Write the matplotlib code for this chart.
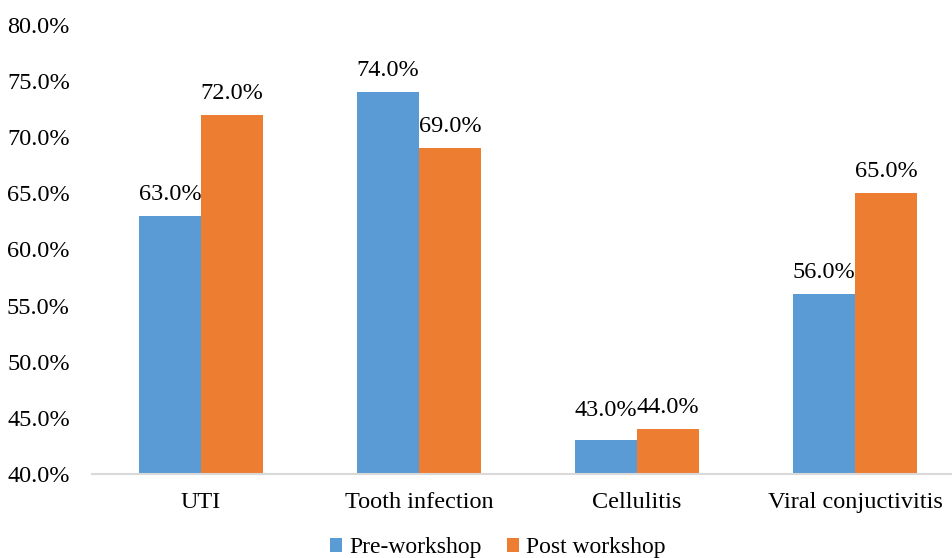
import matplotlib.pyplot as plt
import matplotlib
import numpy as np

matplotlib.rc('font', family=['Liberation Serif', 'DejaVu Serif'])

categories = ['UTI', 'Tooth infection', 'Cellulitis', 'Viral conjuctivitis']
pre_workshop = [63.0, 74.0, 43.0, 56.0]
post_workshop = [72.0, 69.0, 44.0, 65.0]
yticks = [40, 45, 50, 55, 60, 65, 70, 75, 80]

blue = '#5B9BD5'
orange = '#ED7D31'
fs = 17.5

W, H = 953, 558
fig = plt.figure(figsize=(W / 100, H / 100), dpi=100)
ax = fig.add_axes([92 / W, (H - 474) / H, 872 / W, (474 - 25) / H])

x = np.arange(len(categories))
bw = 0.285
b1 = ax.bar(x - bw / 2, pre_workshop, bw, color=blue, label='Pre-workshop')
b2 = ax.bar(x + bw / 2, post_workshop, bw, color=orange, label='Post workshop')

# value labels above each bar (nudge up a low label sitting next to a taller one)
for bars, vals, other in [(b1, pre_workshop, post_workshop), (b2, post_workshop, pre_workshop)]:
    for r, v, o in zip(bars, vals, other):
        dy = 8
        if o > v and o - v < 3:
            dy += 6
        ax.annotate(f'{v:.1f}%', (r.get_x() + r.get_width() / 2, v),
                    xytext=(0, dy), textcoords='offset points',
                    ha='center', va='bottom', fontsize=fs)

ax.set_xlim(-0.5, 3.5)
ax.set_ylim(40, 80)
ax.set_yticks(yticks)
ax.set_yticklabels([f'{t:.1f}%' for t in yticks], fontsize=fs)
ax.set_xticks(x)
ax.set_xticklabels(categories, fontsize=fs)
ax.tick_params(length=0)
ax.tick_params(axis='x', pad=13)
ax.tick_params(axis='y', pad=16)
for s in ['top', 'right', 'left']:
    ax.spines[s].set_visible(False)
ax.spines['bottom'].set_color('#d9d9d9')
ax.spines['bottom'].set_linewidth(1.5)

fig.legend(handles=[b1, b2], loc='center', bbox_to_anchor=(498 / W, (H - 548) / H),
           ncol=2, frameon=False, fontsize=17, handlelength=0.5, handleheight=0.5,
           handletextpad=0.3, columnspacing=1.1)

fig.savefig('out.png', dpi=100)
